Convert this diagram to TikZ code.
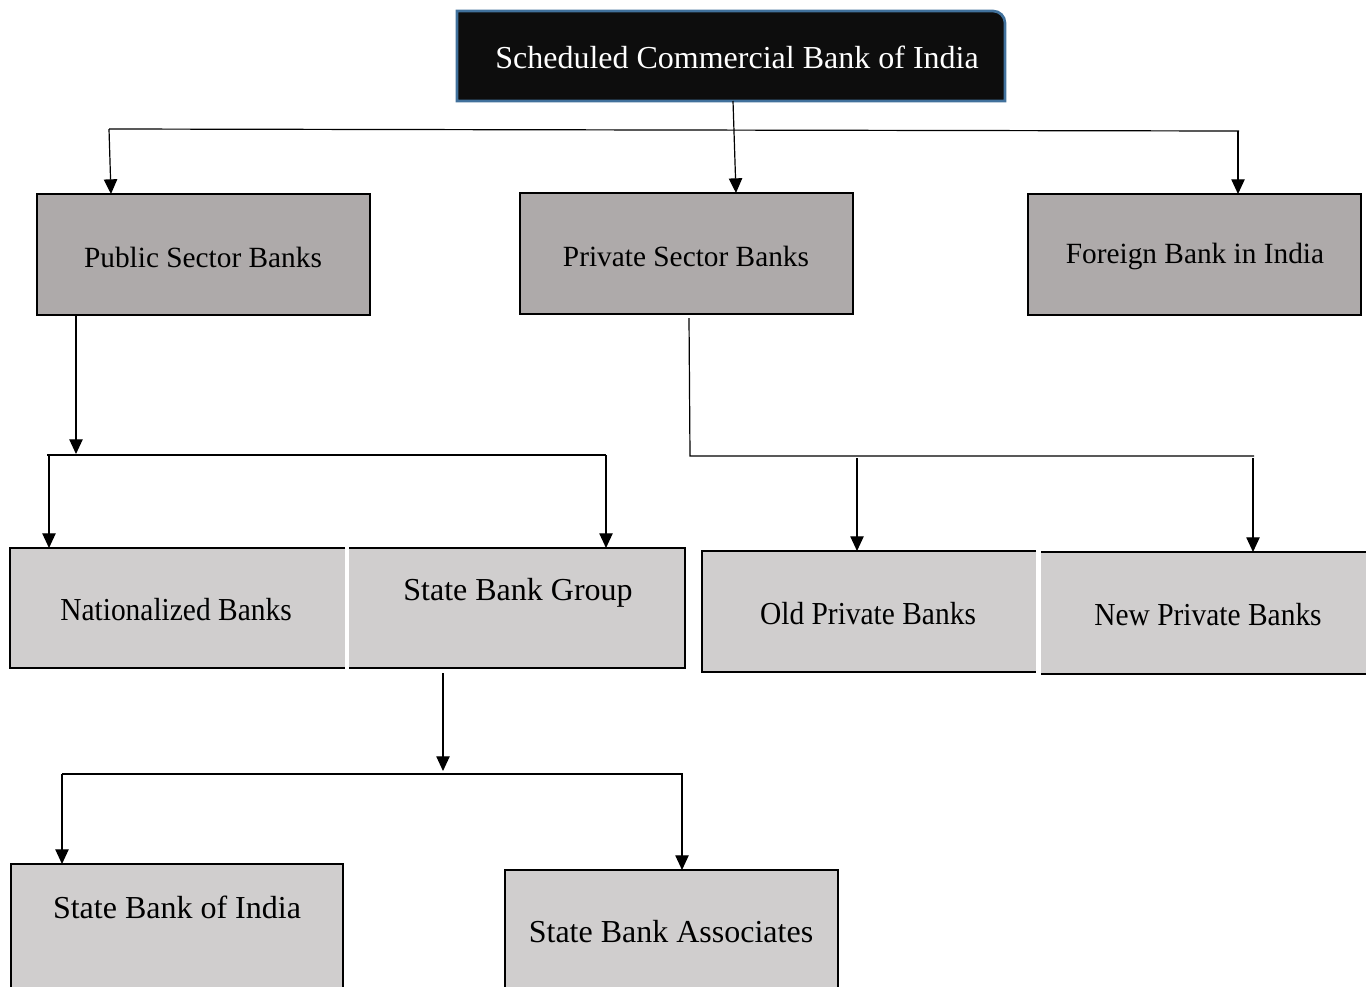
\documentclass[tikz,border=0pt]{standalone}
\usepackage{fontspec}
\setmainfont{Liberation Serif}
\usetikzlibrary{fit,arrows.meta}
\definecolor{topfill}{HTML}{0D0D0D}
\definecolor{topborder}{HTML}{41719C}
\definecolor{darkgray}{HTML}{AEAAAA}
\definecolor{lightgray}{HTML}{D0CECE}
\tikzset{
  frame/.style={inner sep=0pt, outer sep=0pt},
  gbox/.style={frame, draw=black, line width=2.2pt, fill=darkgray},
  lbox/.style={frame, draw=black, line width=2.2pt, fill=lightgray},
  lfill/.style={frame, fill=lightgray},
  side/.style={draw=black, line width=2.2pt},
  thinside/.style={draw=black, line width=1.2pt},
  txt/.style={font=\fontsize{22}{26}\selectfont, inner sep=0pt},
  bigtxt/.style={font=\fontsize{24}{28}\selectfont, inner sep=0pt},
  condtxt/.style={font=\fontsize{24}{28}\selectfont\addfontfeatures{FakeStretch=0.92}, inner sep=0pt},
  conn/.style={line width=0.9pt, draw=black},
  arr/.style={conn, -{Triangle[length=11pt,width=10pt]}},
}
\begin{document}
\begin{tikzpicture}[x=0.75pt,y=-0.75pt]
\useasboundingbox (0,0) rectangle (1366,986);
% top box
\node[frame, fit={(457,11) (1005,101)}] (top) {};
\draw[fill=topfill, draw=topborder, line width=2pt] (top.south west) -- (top.north west) [rounded corners=9pt] -- (top.north east) [sharp corners] -- (top.south east) -- cycle;
\node[txt, text=white, font=\fontsize{24}{28}\selectfont] (toptxt) at (737,57) {Scheduled Commercial Bank of India};
% level 1
\node[gbox, fit={(37,194) (370,315)}] (pub) {};
\node[txt] (pubtxt) at (203,257) {Public Sector Banks};
\node[gbox, fit={(520,193) (853,314)}] (pri) {};
\node[txt] (pritxt) at (686,256) {Private Sector Banks};
\node[gbox, fit={(1028,194) (1361,315)}] (for) {};
\node[txt] (fortxt) at (1195,256) {Foreign Bank in India};
% level 2
\node[lfill, fit={(10,548) (345,668)}] (nat) {};
\draw[side] (nat.north east) -- (nat.north west) -- (nat.south west) -- (nat.south east);
\node[condtxt] (nattxt) at (176,610) {Nationalized Banks};
\node[lfill, fit={(349,548) (685,668)}] (sbg) {};
\draw[side] (sbg.north west) -- (sbg.north east) -- (sbg.south east) -- (sbg.south west);
\node[bigtxt] (sbgtxt) at (518,593) {State Bank Group};
\node[lfill, fit={(702,551) (1036,672)}] (old) {};
\draw[side] (old.north east) -- (old.north west) -- (old.south west) -- (old.south east);
\node[condtxt] (oldtxt) at (868,614) {Old Private Banks};
\node[lfill, fit={(1041,552) (1372,674)}] (new) {};
\draw[thinside] (new.north west) -- (new.north east);
\draw[side] (new.south west) -- (new.south east);
\node[condtxt] (newtxt) at (1208,615) {New Private Banks};
% level 3
\node[lbox, fit={(11,864) (343,992)}] (sbi) {};
\node[bigtxt] (sbitxt) at (177,907) {State Bank of India};
\node[lbox, fit={(505,870) (838,992)}] (sba) {};
\node[bigtxt] (sbatxt) at (671,932) {State Bank Associates};
% connectors: top
\coordinate (b1l) at (109,129);
\coordinate (b1r) at (1239,131);
\draw[arr] (top.south -| 733,0) -- (pri.north -| 736,0);
\draw[conn] (b1l) -- (b1r);
\draw[arr] (b1l) -- (pub.north -| 111,0);
\draw[arr] (1238,131) -- (for.north -| 1238,0);
% public
\coordinate (b2l) at (47,455);
\coordinate (b2r) at (606,455);
\draw[arr] (pub.south -| 76,0) -- (76,454);
\draw[conn] (b2l) -- (b2r);
\draw[arr] (49,455) -- (nat.north -| 49,0);
\draw[arr] (b2r) -- (sbg.north -| 606,0);
% private
\coordinate (b3l) at (690,456);
\coordinate (b3r) at (1254,456);
\draw[conn] (689,318) -- (b3l) -- (b3r);
\draw[arr] (857,458) -- (old.north -| 857,0);
\draw[arr] (1253,458) -- (new.north -| 1253,0);
% state bank group
\coordinate (b4l) at (62,774);
\coordinate (b4r) at (683,774);
\draw[arr] (443,673) -- (443,771);
\draw[conn] (b4l) -- (b4r);
\draw[arr] (b4l) -- (sbi.north -| 62,0);
\draw[arr] (682,774) -- (sba.north -| 682,0);
\end{tikzpicture}
\end{document}
